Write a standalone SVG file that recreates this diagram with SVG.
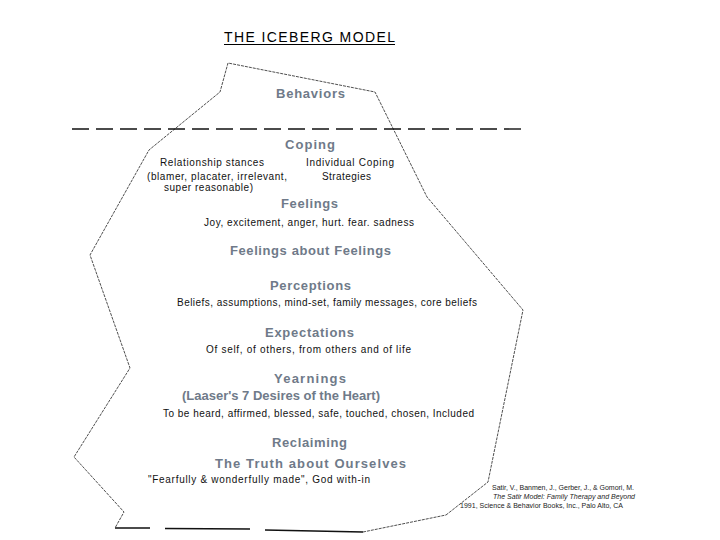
<svg xmlns="http://www.w3.org/2000/svg" width="720" height="540" viewBox="0 0 720 540">
<style>
.h{font-family:"Liberation Sans",Arial,sans-serif;font-size:13px;font-weight:bold;fill:#6f7a89;text-anchor:middle}
.t{font-family:"Liberation Sans",Arial,sans-serif;font-size:10px;fill:#111;text-anchor:middle}
.c{font-family:"Liberation Sans",Arial,sans-serif;font-size:7px;fill:#222;text-anchor:middle}
.title{font-family:"Liberation Sans",Arial,sans-serif;font-size:14px;fill:#000;text-anchor:middle}
.ol{fill:none;stroke:#222;stroke-width:0.8;stroke-dasharray:3 1}
.bl{fill:none;stroke:#111;stroke-width:1.3}
.wl{fill:none;stroke:#111;stroke-width:1.4;stroke-dasharray:17 7}
</style>
<rect width="720" height="540" fill="#fff"/>
<g id="title">
<text class="title" x="309.5" y="42" textLength="171">THE ICEBERG MODEL</text>
<line x1="224" y1="44.5" x2="395" y2="44.5" stroke="#000" stroke-width="1.2"/>
</g>
<g id="connectors">
<path class="ol" d="M446,515 L488,482 L523,310 L427,197 L375,92 L228,63 L220,92 L149,150 L90,255 L130,368 L74,457 L124,512 L115,528"/>
<path class="bl" d="M115,528 L150,528 M165,528.5 L250,529 M265,530 L363,532"/>
<path class="ol" d="M363,532 L446,515" stroke-width="1.1"/>
<line class="wl" x1="72" y1="129" x2="528" y2="129"/>
</g>
<g id="behaviors">
<text class="h" x="310.5" y="98" textLength="69">Behaviors</text>
</g>
<g id="coping">
<text class="h" x="310" y="149" textLength="50">Coping</text>
<text class="t" x="212" y="166" textLength="104">Relationship stances</text>
<text class="t" x="217" y="180" textLength="140">(blamer, placater, irrelevant,</text>
<text class="t" x="208.5" y="191" textLength="89">super reasonable)</text>
<text class="t" x="350" y="166" textLength="88">Individual Coping</text>
<text class="t" x="346.5" y="180" textLength="49">Strategies</text>
</g>
<g id="feelings">
<text class="h" x="309.5" y="208" textLength="57">Feelings</text>
<text class="t" x="309" y="226" textLength="210">Joy, excitement, anger, hurt. fear. sadness</text>
</g>
<g id="feelings-about-feelings">
<text class="h" x="310.5" y="255" textLength="161">Feelings about Feelings</text>
</g>
<g id="perceptions">
<text class="h" x="310.5" y="290" textLength="81">Perceptions</text>
<text class="t" x="327" y="306" textLength="300">Beliefs, assumptions, mind-set, family messages, core beliefs</text>
</g>
<g id="expectations">
<text class="h" x="309.5" y="337" textLength="89">Expectations</text>
<text class="t" x="308.5" y="353" textLength="205">Of self, of others, from others and of life</text>
</g>
<g id="yearnings">
<text class="h" x="310" y="383" textLength="72">Yearnings</text>
<text class="h" x="281" y="400" textLength="198">(Laaser's 7 Desires of the Heart)</text>
<text class="t" x="318.5" y="417" textLength="311">To be heard, affirmed, blessed, safe, touched, chosen, Included</text>
</g>
<g id="reclaiming">
<text class="h" x="309.5" y="447" textLength="75">Reclaiming</text>
<text class="h" x="310.5" y="468" textLength="191">The Truth about Ourselves</text>
<text class="t" x="259" y="483" textLength="222">"Fearfully &amp; wonderfully made", God with-in</text>
</g>
<g id="citation">
<text class="c" x="563" y="490" textLength="142">Satir, V., Banmen, J., Gerber, J., &amp; Gomori, M.</text>
<text class="c" x="564" y="499" textLength="142" font-style="italic">The Satir Model: Family Therapy and Beyond</text>
<text class="c" x="541.5" y="508" textLength="163">1991, Science &amp; Behavior Books, Inc., Palo Alto, CA</text>
</g>
</svg>
